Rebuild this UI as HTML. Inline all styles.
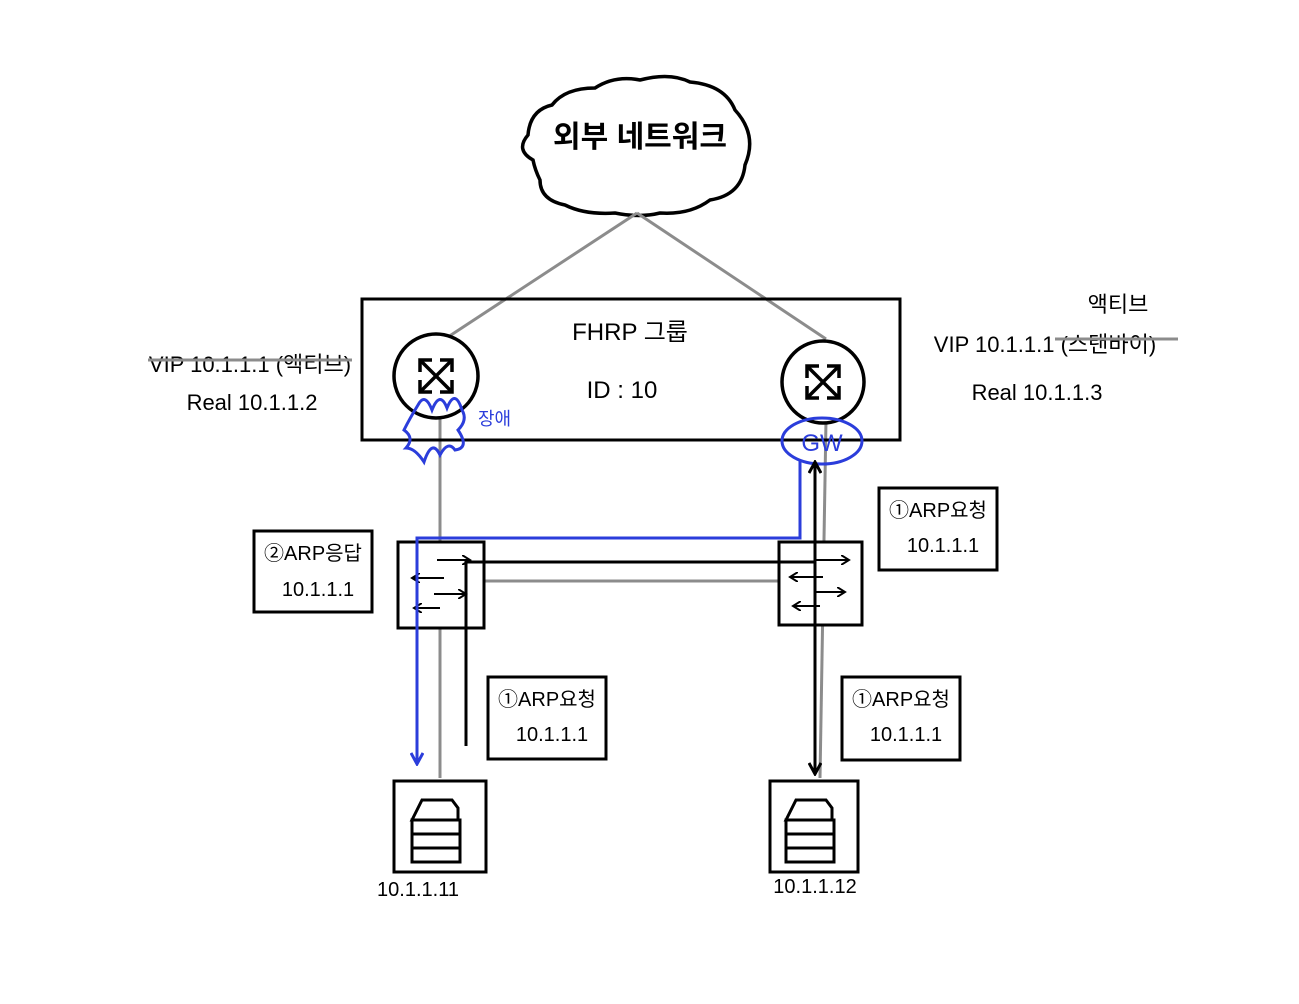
<!DOCTYPE html>
<html><head><meta charset="utf-8"><style>
body{margin:0;background:#fff}
text{font-family:"Liberation Sans","Noto Sans CJK KR",sans-serif;fill:#000}
</style></head><body>
<svg width="1299" height="999" viewBox="0 0 1299 999" xmlns="http://www.w3.org/2000/svg">
<rect width="1299" height="999" fill="#fff"/>
<defs>
<marker id="ah" markerWidth="10" markerHeight="10" refX="8" refY="5" orient="auto" markerUnits="userSpaceOnUse"><path d="M0,0 L8,5 L0,10" fill="none" stroke="#000" stroke-width="2"/></marker>
<marker id="ahb" markerWidth="14" markerHeight="14" refX="12" refY="7" orient="auto" markerUnits="userSpaceOnUse"><path d="M1,1 L12,7 L1,13" fill="none" stroke="#2b3ddb" stroke-width="3"/></marker>
<marker id="ahk" markerWidth="14" markerHeight="14" refX="12" refY="7" orient="auto-start-reverse" markerUnits="userSpaceOnUse"><path d="M1,1 L12,7 L1,13" fill="none" stroke="#000" stroke-width="3"/></marker>
</defs>
<!-- cloud -->
<path d="M533,160 Q515,150 528,135 Q530,110 552,105 Q565,88 595,88 Q615,75 640,80 Q670,72 690,82 Q725,85 735,110 Q758,135 745,165 Q742,195 710,200 Q690,215 660,213 Q640,218 615,213 Q585,215 565,205 Q540,200 540,180 Q535,170 533,160 Z" fill="#fff" stroke="#000" stroke-width="3.5"/>
<text x="640" y="147" font-size="30" text-anchor="middle" font-weight="bold">외부 네트워크</text>
<!-- gray lines -->
<g stroke="#8c8c8c" stroke-width="3" fill="none">
<line x1="637" y1="213" x2="448" y2="337"/>
<line x1="637" y1="213" x2="826" y2="339"/>
<line x1="440" y1="418" x2="440" y2="778"/>
<line x1="826" y1="420" x2="820" y2="778"/>
<line x1="484" y1="581" x2="779" y2="581"/>
</g>
<!-- FHRP box -->
<rect x="362" y="299" width="538" height="141" fill="none" stroke="#000" stroke-width="3"/>
<text x="630" y="340" font-size="24" text-anchor="middle">FHRP 그룹</text>
<text x="622" y="398" font-size="24" text-anchor="middle">ID : 10</text>
<!-- routers -->
<g stroke="#000" stroke-width="3.5" fill="#fff">
<circle cx="436" cy="376" r="42"/>
<circle cx="823" cy="382" r="41"/>
</g>
<g stroke="#000" stroke-width="3.5" fill="none">
<line x1="420" y1="360" x2="452" y2="392"/><line x1="452" y1="360" x2="420" y2="392"/>
<path d="M420,372 V360 H432 M440,360 H452 V372 M452,380 V392 H440 M432,392 H420 V380"/>
<line x1="807" y1="366" x2="839" y2="398"/><line x1="839" y1="366" x2="807" y2="398"/>
<path d="M807,378 V366 H819 M827,366 H839 V378 M839,386 V398 H827 M819,398 H807 V386"/>
</g>
<!-- labels -->
<text x="250" y="372" font-size="22" text-anchor="middle">VIP 10.1.1.1 (액티브)</text>
<text x="252" y="410" font-size="22" text-anchor="middle">Real 10.1.1.2</text>
<text x="1118" y="312" font-size="22" text-anchor="middle">액티브</text>
<text x="1045" y="352" font-size="22" text-anchor="middle">VIP 10.1.1.1 (스탠바이)</text>
<text x="1037" y="400" font-size="22" text-anchor="middle">Real 10.1.1.3</text>
<g stroke="#8c8c8c" stroke-width="3">
<line x1="148" y1="360" x2="352" y2="360"/>
<line x1="1055" y1="339" x2="1178" y2="339"/>
</g>
<!-- blue scribble -->
<path d="M418,405 Q425,392 432,410 Q440,390 447,408 Q455,388 462,410 Q468,420 458,430 Q470,448 455,450 Q448,440 440,455 Q432,438 424,462 Q415,448 406,448 Q415,438 404,430 Q410,418 418,405" fill="none" stroke="#2b3ddb" stroke-width="3"/>
<text x="478" y="425" font-size="18" style="fill:#2b3ddb">장애</text>
<ellipse cx="822" cy="441" rx="40" ry="23" fill="none" stroke="#2b3ddb" stroke-width="3"/>
<text x="822" y="451" font-size="24" text-anchor="middle" style="fill:#2b3ddb">GW</text>
<!-- switches -->
<rect x="398" y="542" width="86" height="86" fill="#fff" stroke="#000" stroke-width="3"/>
<rect x="779" y="542" width="83" height="83" fill="#fff" stroke="#000" stroke-width="3"/>
<g stroke="#000" stroke-width="2" fill="none">
<line x1="437" y1="560" x2="470" y2="560" marker-end="url(#ah)"/>
<line x1="444" y1="578" x2="412" y2="578" marker-end="url(#ah)"/>
<line x1="434" y1="594" x2="466" y2="594" marker-end="url(#ah)"/>
<line x1="440" y1="608" x2="414" y2="608" marker-end="url(#ah)"/>
<line x1="816" y1="560" x2="849" y2="560" marker-end="url(#ah)"/>
<line x1="823" y1="577" x2="790" y2="577" marker-end="url(#ah)"/>
<line x1="816" y1="592" x2="845" y2="592" marker-end="url(#ah)"/>
<line x1="820" y1="606" x2="793" y2="606" marker-end="url(#ah)"/>
</g>
<line x1="465" y1="562" x2="815" y2="562" stroke="#000" stroke-width="3"/>
<line x1="466" y1="560" x2="466" y2="746" stroke="#000" stroke-width="3"/>
<!-- black bidirectional -->
<line x1="815" y1="462" x2="815" y2="774" stroke="#000" stroke-width="3" marker-start="url(#ahk)" marker-end="url(#ahk)"/>
<!-- blue path -->
<path d="M800,460 V538 H417 V764" fill="none" stroke="#2b3ddb" stroke-width="3" marker-end="url(#ahb)"/>
<!-- label boxes -->
<g fill="#fff" stroke="#000" stroke-width="3">
<rect x="254" y="531" width="118" height="81"/>
<rect x="879" y="488" width="118" height="82"/>
<rect x="488" y="677" width="118" height="82"/>
<rect x="842" y="677" width="118" height="83"/>
</g>
<g font-size="20" text-anchor="middle">
<text x="313" y="560">②ARP응답</text><text x="318" y="596">10.1.1.1</text>
<text x="938" y="517">①ARP요청</text><text x="943" y="552">10.1.1.1</text>
<text x="547" y="706">①ARP요청</text><text x="552" y="741">10.1.1.1</text>
<text x="901" y="706">①ARP요청</text><text x="906" y="741">10.1.1.1</text>
</g>
<!-- servers -->
<g fill="#fff" stroke="#000" stroke-width="3">
<rect x="394" y="781" width="92" height="91"/>
<rect x="770" y="781" width="88" height="91"/>
</g>
<g fill="none" stroke="#000" stroke-width="3">
<path d="M412,820 L422,800 H452 L458,808 V820 H412 Z M412,820 H460 V862 H412 Z M412,834 H460 M412,848 H460"/>
<path d="M786,820 L796,800 H826 L832,808 V820 H786 Z M786,820 H834 V862 H786 Z M786,834 H834 M786,848 H834"/>
</g>
<text x="418" y="896" font-size="20" text-anchor="middle">10.1.1.11</text>
<text x="815" y="893" font-size="20" text-anchor="middle">10.1.1.12</text>
</svg>
</body></html>
